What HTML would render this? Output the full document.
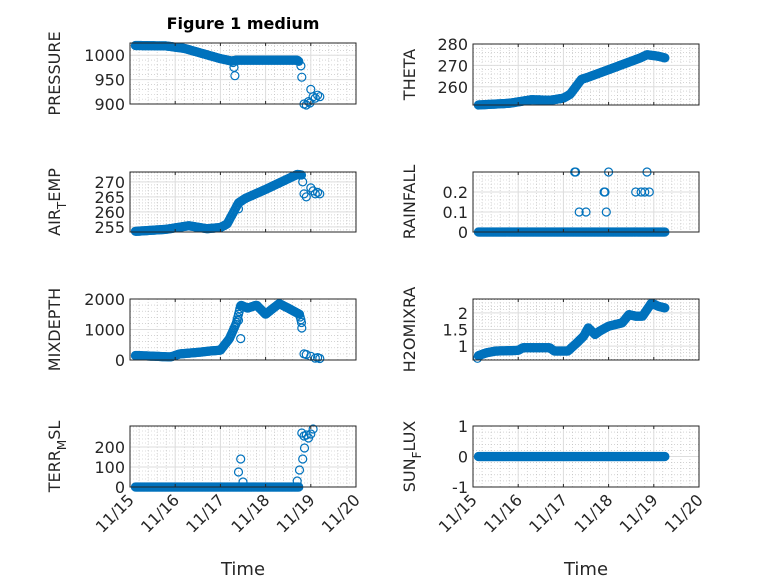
<!DOCTYPE html>
<html><head><meta charset="utf-8"><style>
body{margin:0;background:#fff}
svg text{font-family:"DejaVu Sans","Liberation Sans",sans-serif;fill:#262626}
</style></head><body>
<svg id="s" width="778" height="583" xmlns="http://www.w3.org/2000/svg">
<rect width="778" height="583" fill="#fff"/>
<text x="243" y="29" text-anchor="middle" font-size="16" font-weight="bold" style="fill:#000">Figure 1 medium</text>
</svg>
<script>
const S=document.getElementById('s');let h='';
function lin(pts,t){for(let i=0;i<pts.length-1;i++){if(t>=pts[i][0]&&t<=pts[i+1][0]){const a=pts[i],b=pts[i+1];return a[1]+(b[1]-a[1])*(t-a[0])/(b[0]-a[0]);}}return pts[pts.length-1][1];}
function axis(o){
 const {x0,x1,y0,y1,lo,hi,ticks,lab,data,xl,lx}=o;
 const X=t=>x0+(x1-x0)*t/5, Y=v=>y1-(y1-y0)*(v-lo)/(hi-lo);
 h+=`<rect x="${x0}" y="${y0}" width="${x1-x0}" height="${y1-y0}" fill="#fff"/>`;
 for(let d=0;d<=5;d+=0.2){const x=X(d);h+=`<line x1="${x}" x2="${x}" y1="${y0}" y2="${y1}" stroke="#bbb" stroke-width="0.6" stroke-dasharray="1,2"/>`;}
 const mstep=(o.minor||(ticks[1]-ticks[0])/5);
 for(let v=lo-((lo%mstep)+mstep)%mstep;v<=hi;v+=mstep){if(v<lo)continue;const y=Y(v);h+=`<line x1="${x0}" x2="${x1}" y1="${y}" y2="${y}" stroke="#bbb" stroke-width="0.6" stroke-dasharray="1,2"/>`;}
 for(let d=1;d<5;d++){const x=X(d);h+=`<line x1="${x}" x2="${x}" y1="${y0}" y2="${y1}" stroke="#ddd" stroke-width="1"/>`;}
 ticks.forEach(v=>{const y=Y(v);h+=`<line x1="${x0}" x2="${x1}" y1="${y}" y2="${y}" stroke="#ddd" stroke-width="1"/>`;h+=`<text x="${x0-5}" y="${y+6}" text-anchor="end" font-size="16">${v}</text>`;});
 data.forEach(([t,v])=>{h+=`<circle cx="${X(t).toFixed(1)}" cy="${Y(v).toFixed(1)}" r="4" fill="none" stroke="#0072BD" stroke-width="1.2"/>`;});
 h+=`<rect x="${x0}" y="${y0}" width="${x1-x0}" height="${y1-y0}" fill="none" stroke="#262626" stroke-width="1"/>`;
 for(let d=1;d<5;d++){const x=X(d);h+=`<line x1="${x}" x2="${x}" y1="${y1}" y2="${y1-3}" stroke="#262626"/><line x1="${x}" x2="${x}" y1="${y0}" y2="${y0+3}" stroke="#262626"/>`;}
 const cy=(y0+y1)/2;
 h+=`<text transform="translate(${x0-lx},${cy}) rotate(-90)" text-anchor="middle" font-size="16">${lab}</text>`;
 if(xl){for(let d=0;d<=5;d++){const x=X(d);h+=`<text transform="translate(${x+5},${y1+14}) rotate(-45)" text-anchor="end" font-size="16">11/${15+d}</text>`;}
  h+=`<text x="${(x0+x1)/2}" y="575" text-anchor="middle" font-size="18">Time</text>`;}
}
function gen(f,a=0.12,b=4.25,st=0.015){const r=[];for(let t=a;t<=b;t+=st)r.push([t,f(t)]);return r;}
const L=[130,356],R=[473,699];
let p=gen(t=>lin([[0.1,1020],[0.8,1019],[1.2,1014],[2.0,993],[2.25,988],[2.35,990],[3.7,990],[3.75,986]],t),0.12,3.75);
p.push([2.3,975],[2.32,958],[2.28,985],[3.78,978],[3.8,955],[3.85,900],[3.9,898],[3.95,905],[4.0,930],[4.05,915],[4.1,912],[4.15,918],[4.2,915],[3.98,902]);
axis({x0:L[0],x1:L[1],y0:43,y1:104,lo:900,hi:1025,ticks:[900,950,1000],minor:10,lab:"PRESSURE",data:p,lx:70});
let a=gen(t=>lin([[0.1,253.5],[0.8,254.2],[1.3,255.4],[1.7,254.4],[2.0,254.8],[2.15,256],[2.4,263],[2.55,264.5],[3.0,267.5],[3.7,272.5],[3.8,272.3]],t),0.12,3.8);
a.push([2.4,261],[3.82,270],[3.85,266],[3.9,265],[4.0,268],[4.05,267],[4.1,266],[4.15,266.5],[4.2,266]);
axis({x0:L[0],x1:L[1],y0:172,y1:232,lo:253.3,hi:273.3,ticks:[255,260,265,270],minor:1,lab:"AIR<tspan dy='6' font-size='12'>T</tspan><tspan dy='-6'>EMP</tspan>",data:a,lx:70});
let m=gen(t=>lin([[0.1,150],[0.6,120],[0.9,100],[1.1,200],[1.5,250],[1.8,300],[2.0,320],[2.2,700],[2.35,1200],[2.45,1800],[2.6,1700],[2.8,1800],[3.0,1500],[3.3,1850],[3.5,1700],[3.75,1500],[3.8,1200]],t),0.12,3.8);
m.push([2.4,1300],[2.45,700],[3.8,1050],[3.85,200],[3.9,180],[4.0,120],[4.1,60],[4.2,50],[4.15,80]);
axis({x0:L[0],x1:L[1],y0:299,y1:360,lo:0,hi:2000,ticks:[0,1000,2000],minor:200,lab:"MIXDEPTH",data:m,lx:70});
let tr=gen(t=>0,0.12,3.75);
tr.push([2.4,75],[2.45,140],[2.5,25],[3.7,30],[3.75,85],[3.82,140],[3.86,195],[3.8,270],[3.85,255],[3.9,260],[3.95,245],[4.0,265],[4.05,290]);
axis({x0:L[0],x1:L[1],y0:426,y1:487,lo:0,hi:305,ticks:[0,100,200],minor:20,lab:"TERR<tspan dy='6' font-size='12'>M</tspan><tspan dy='-6'>SL</tspan>",data:tr,xl:1,lx:70});
let th=gen(t=>lin([[0.1,251.5],[0.8,252.3],[1.3,254],[1.7,253.7],[2.0,254.7],[2.15,256.5],[2.4,263.5],[2.55,264.5],[3.0,268],[3.7,273.5],[3.85,275],[4.1,274.3],[4.25,273.5]],t),0.12,4.25);
axis({x0:R[0],x1:R[1],y0:44,y1:105,lo:251.5,hi:280,ticks:[260,270,280],minor:2,lab:"THETA",data:th,lx:58});
let rf=gen(t=>0,0.12,4.25);
rf.push([2.25,0.3],[2.27,0.3],[2.35,0.1],[2.5,0.1],[2.9,0.2],[2.92,0.2],[2.95,0.1],[3.0,0.3],[3.6,0.2],[3.72,0.2],[3.85,0.3],[3.9,0.2],[3.8,0.2]);
axis({x0:R[0],x1:R[1],y0:172,y1:232,lo:0,hi:0.3,ticks:[0,0.1,0.2],minor:0.02,lab:"RAINFALL",data:rf,lx:58});
let hw=gen(t=>lin([[0.1,0.7],[0.3,0.8],[0.5,0.85],[1.0,0.87],[1.1,0.95],[1.7,0.95],[1.8,0.85],[2.1,0.85],[2.3,1.1],[2.45,1.3],[2.55,1.55],[2.7,1.35],[2.8,1.45],[3.0,1.6],[3.3,1.7],[3.45,1.95],[3.6,1.9],[3.75,1.9],[3.95,2.3],[4.1,2.2],[4.25,2.15]],t),0.12,4.25);
hw.push([0.1,0.63]);
axis({x0:R[0],x1:R[1],y0:299,y1:360,lo:0.58,hi:2.42,ticks:[1,1.5,2],minor:0.1,lab:"H2OMIXRA",data:hw,lx:58});
let sn=gen(t=>0,0.12,4.25);
axis({x0:R[0],x1:R[1],y0:426,y1:487,lo:-1,hi:1,ticks:[-1,0,1],minor:0.2,lab:"SUN<tspan dy='6' font-size='12'>F</tspan><tspan dy='-6'>LUX</tspan>",data:sn,xl:1,lx:58});
S.insertAdjacentHTML('beforeend',h);
</script>
</body></html>
